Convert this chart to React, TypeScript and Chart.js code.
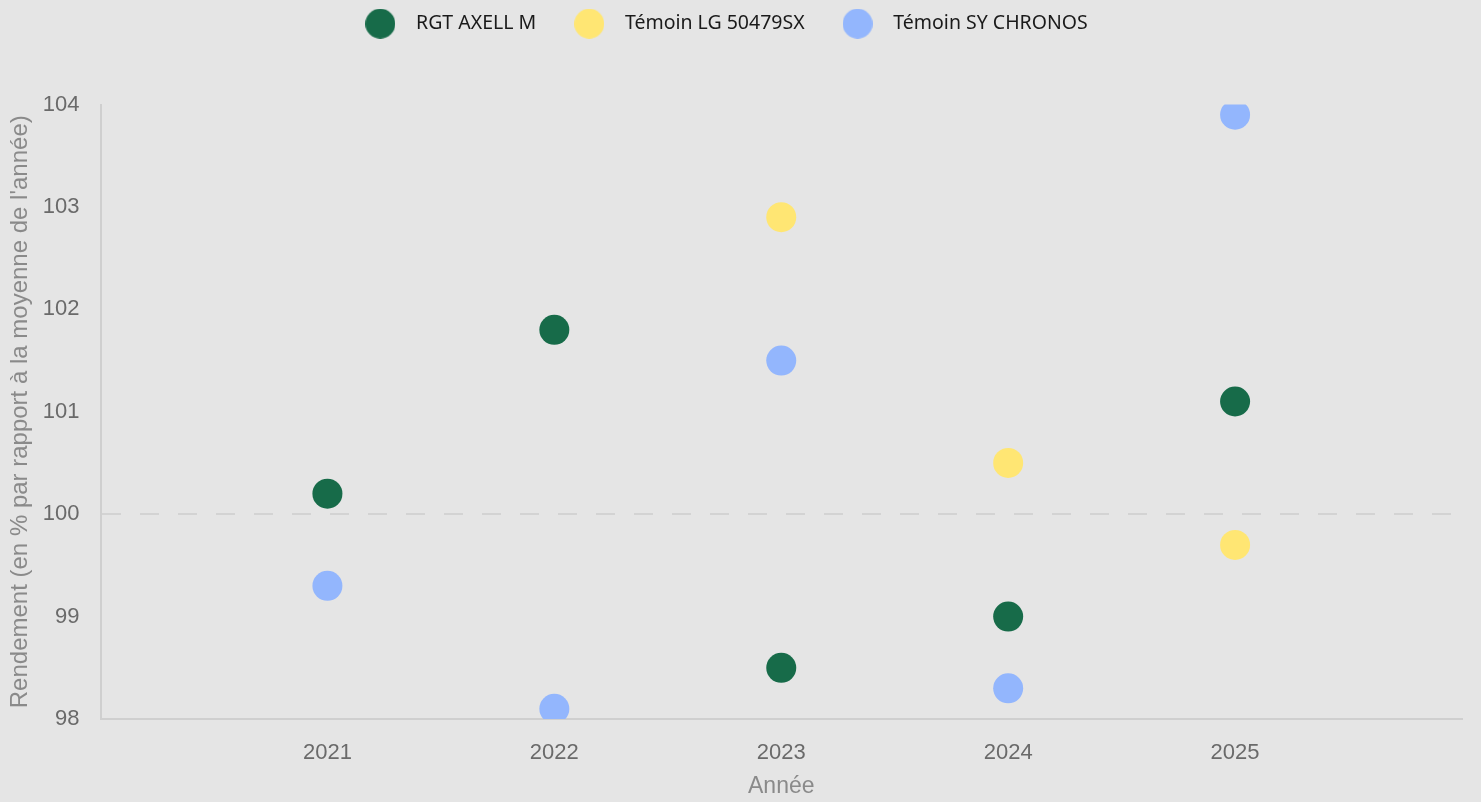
import React, { useEffect, useRef } from "react";
import { Chart, registerables } from "chart.js";

Chart.register(...registerables);

const years = [2021, 2022, 2023, 2024, 2025];
const seriesNames = ["RGT AXELL M", "Témoin LG 50479SX", "Témoin SY CHRONOS"];
const rgtAxell = [100.2, 101.8, 98.5, 99.0, 101.1];
const lg50479 = [null, null, 102.9, 100.5, 99.7];
const syChronos = [99.3, 98.1, 101.5, 98.3, 103.9];
const colors = ["#176b49", "#ffe673", "#93b6fd"];
const yTicks = [98, 99, 100, 101, 102, 103, 104];

function makeDot(color: string, r: number) {
  const c = document.createElement("canvas");
  c.width = r * 2;
  c.height = r * 2;
  const g = c.getContext("2d")!;
  g.fillStyle = color;
  g.beginPath();
  g.arc(r, r, r, 0, Math.PI * 2);
  g.fill();
  return c;
}

const legendSpacer = {
  id: "legendSpacer",
  beforeInit(chart: any) {
    const lg = chart.legend;
    if (!lg) return;
    const orig = lg.fit;
    lg.fit = function () {
      orig.call(this);
      this.height += 61;
      if (this.lineWidths && this.lineWidths.length) this.lineWidths[0] += 26;
    };
  },
};

export default function App() {
  const ref = useRef<HTMLCanvasElement | null>(null);
  useEffect(() => {
    document.body.style.margin = "0";
    document.body.style.background = "#e5e5e5";
    const series = [rgtAxell, lg50479, syChronos];
    const dots = colors.map((c) => makeDot(c, 15));
    const chart = new Chart(ref.current!, {
      type: "scatter",
      plugins: [legendSpacer],
      data: {
        datasets: series.map((vals, i) => ({
          label: seriesNames[i],
          data: years
            .map((y, j) => ({ x: y, y: vals[j] }))
            .filter((p) => p.y !== null) as any,
          backgroundColor: colors[i],
          borderColor: colors[i],
          borderWidth: 0,
          pointRadius: 15,
          pointHoverRadius: 15,
          pointStyle: "circle",
        })),
      },
      options: {
        animation: false,
        responsive: false,
        maintainAspectRatio: false,
        layout: { padding: { top: -13, left: 6, right: 19, bottom: 2 } },
        plugins: {
          tooltip: { enabled: false },
          legend: {
            position: "top",
            labels: {
              usePointStyle: true,
              pointStyleWidth: 52,
              padding: 27,
              color: "#1a1a1a",
              font: { family: "'Noto Sans'", size: 19.5 },
              generateLabels: (ch: any) => {
                const items = Chart.defaults.plugins.legend.labels.generateLabels(ch);
                return items.map((it: any, i: number) => ({ ...it, pointStyle: dots[i] }));
              },
            },
          },
        },
        scales: {
          x: {
            type: "linear",
            min: 2020,
            max: 2026,
            afterBuildTicks: (scale: any) => {
              scale.ticks = years.map((v) => ({ value: v }));
            },
            ticks: {
              color: "#6a6a6a",
              font: { family: "'Liberation Sans'", size: 22 },
              padding: 21,
              callback: (v: any) => String(v),
            },
            grid: { display: false, drawTicks: false },
            border: { display: true, color: "#cfcfcf", width: 2 },
            title: {
              display: true,
              text: "Année",
              color: "#8a8a8a",
              font: { family: "'Liberation Sans'", size: 23 },
              padding: { top: -15, bottom: 0 },
            },
          },
          y: {
            type: "linear",
            min: 98,
            max: 104,
            afterBuildTicks: (scale: any) => {
              scale.ticks = yTicks.map((v) => ({ value: v }));
            },
            ticks: {
              color: "#6a6a6a",
              font: { family: "'Liberation Sans'", size: 22 },
              padding: 21,
            },
            grid: {
              drawTicks: false,
              lineWidth: 2,
              color: (ctx: any) => (ctx.tick && ctx.tick.value === 100 ? "#d3d3d3" : "rgba(0,0,0,0)"),
            },
            border: { display: true, color: "#cfcfcf", width: 2, dash: [19, 19] },
            title: {
              display: true,
              text: "Rendement (en % par rapport à la moyenne de l'année)",
              color: "#8a8a8a",
              font: { family: "'Liberation Sans'", size: 24 },
              padding: { top: 0, bottom: -13 },
            },
          },
        },
      } as any,
    });
    return () => chart.destroy();
  }, []);
  return (
    <div style={{ width: 1481, height: 802, background: "#e5e5e5" }}>
      <canvas ref={ref} width={1481} height={802} style={{ display: "block" }} />
    </div>
  );
}
